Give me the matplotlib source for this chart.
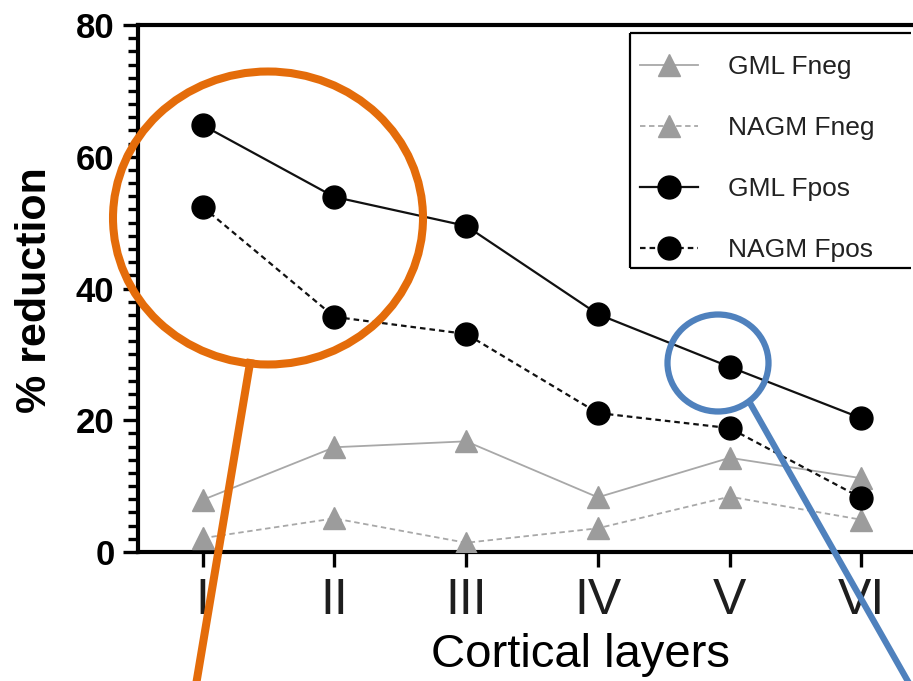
import matplotlib
matplotlib.use("Agg")
import matplotlib.pyplot as plt
from matplotlib.ticker import MultipleLocator
from matplotlib.patches import Ellipse
from matplotlib.lines import Line2D

plt.rcParams['font.family'] = ['Liberation Sans', 'DejaVu Sans']

# Cortical layers and % reduction per group
layers = ["I", "II", "III", "IV", "V", "VI"]
gml_fneg = [7.9, 15.9, 16.8, 8.3, 14.3, 11.2]
nagm_fneg = [2.1, 5.1, 1.4, 3.6, 8.4, 4.9]
gml_fpos = [64.8, 53.9, 49.5, 36.1, 28.1, 20.3]
nagm_fpos = [52.4, 35.7, 33.1, 21.1, 18.8, 8.2]
series_labels = ["GML Fneg", "NAGM Fneg", "GML Fpos", "NAGM Fpos"]
y_ticks = [0, 20, 40, 60, 80]

W, H = 913, 681
fig = plt.figure(figsize=(W / 100, H / 100), dpi=100)
ax = fig.add_axes([138 / W, (H - 552) / H, 788 / W, 527 / H])

x = list(range(len(layers)))
grey = "#9c9c9c"
ax.plot(x, gml_fneg, color="#a8a8a8", lw=1.3, ls="-", marker="^", ms=15.5,
        mfc=grey, mec=grey, label=series_labels[0], zorder=3)
ax.plot(x, nagm_fneg, color="#a8a8a8", lw=1.3, ls=(0, (3, 2)), marker="^", ms=15.5,
        mfc=grey, mec=grey, label=series_labels[1], zorder=3)
ax.plot(x, gml_fpos, color="#111111", lw=1.6, ls="-", marker="o", ms=16.5,
        mfc="black", mec="black", label=series_labels[2], zorder=4)
ax.plot(x, nagm_fpos, color="#111111", lw=1.6, ls=(0, (2.5, 1.8)), marker="o", ms=16.5,
        mfc="black", mec="black", label=series_labels[3], zorder=4)

ax.set_xlim(-0.49, 5.49)
ax.set_ylim(0, 80)
ax.set_xticks(x)
ax.set_xticklabels(layers, fontsize=36, color="#1e1e1e")
ax.set_yticks(y_ticks)
ax.set_yticklabels([str(v) for v in y_ticks], fontsize=25, fontweight="bold")
ax.yaxis.set_minor_locator(MultipleLocator(2))
ax.tick_params(axis="y", which="major", direction="out", length=11, width=2.4, pad=6)
ax.tick_params(axis="y", which="minor", direction="out", length=7.5, width=2.4)
ax.tick_params(axis="x", which="major", direction="out", length=11, width=2.4, pad=8)

for side in ["left", "bottom", "top"]:
    ax.spines[side].set_linewidth(3)
    ax.spines[side].set_color("black")
ax.spines["right"].set_visible(False)

ax.set_ylabel("% reduction", fontsize=31, fontweight="bold", va="center")
ax.yaxis.set_label_coords(-0.131, 0.497)
ax.set_xlabel("Cortical layers", fontsize=34, va="center")
ax.xaxis.set_label_coords(0.561, -0.195)


def fx(px):
    return px / W


def fy(py):
    return 1 - py / H


# Legend entries without their own frame; the box is open on the right edge
leg = ax.legend(loc="upper left", bbox_to_anchor=(fx(618), fy(33)),
                bbox_transform=fig.transFigure, fontsize=19,
                frameon=False, handlelength=2.2, handletextpad=1.1,
                labelspacing=1.4, borderpad=0.85, borderaxespad=0)
for t in leg.get_texts():
    t.set_color("#222222")
box_segments = [
    ([fx(630), fx(911)], [fy(33), fy(33)]),
    ([fx(630), fx(911)], [fy(268), fy(268)]),
    ([fx(630), fx(630)], [fy(33), fy(268)]),
]
for sx, sy in box_segments:
    fig.add_artist(Line2D(sx, sy, color="black", lw=1.6, solid_capstyle="butt",
                          transform=fig.transFigure, zorder=6))

# Highlight callouts in figure pixel space
orange = "#E46C0A"
blue = "#4F81BD"
fig.add_artist(Ellipse((fx(268), fy(218)), 310 / W, 293 / H, fill=False,
                       edgecolor=orange, lw=5.8, transform=fig.transFigure, zorder=10))
fig.add_artist(Line2D([fx(250), fx(196)], [fy(363), fy(685)], color=orange, lw=5.8,
                      transform=fig.transFigure, zorder=10))
fig.add_artist(Ellipse((fx(718), fy(363)), 101 / W, 97 / H, fill=False,
                       edgecolor=blue, lw=4.5, transform=fig.transFigure, zorder=10))
fig.add_artist(Line2D([fx(750), fx(910)], [fy(403), fy(685)], color=blue, lw=4.5,
                      transform=fig.transFigure, zorder=10))

fig.savefig("out.png", dpi=100)
